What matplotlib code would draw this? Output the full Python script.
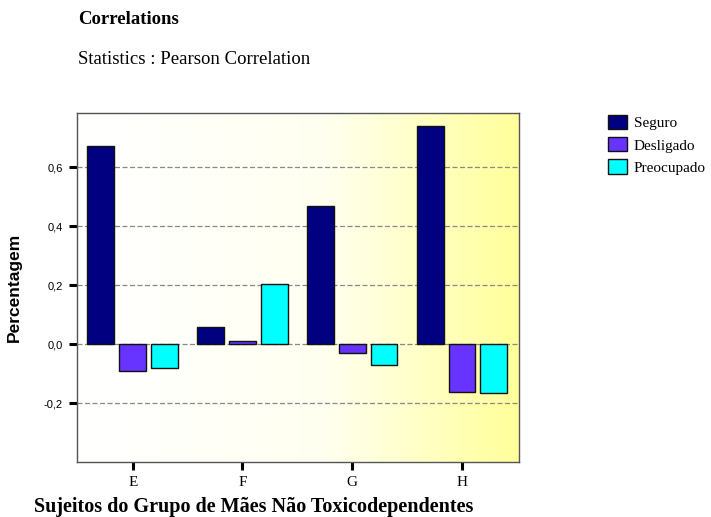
import numpy as np
import matplotlib.pyplot as plt
from matplotlib.patches import Patch
from matplotlib.colors import LinearSegmentedColormap

categories = ['E', 'F', 'G', 'H']
seguro = [0.671, 0.058, 0.468, 0.739]
desligado = [-0.092, 0.010, -0.031, -0.163]
preocupado = [-0.081, 0.203, -0.071, -0.166]
series_names = ['Seguro', 'Desligado', 'Preocupado']
series_colors = ['#000080', '#6633FF', '#00FFFF']
yticks = [-0.2, 0.0, 0.2, 0.4, 0.6]
ytick_labels = ['-0,2', '0,0', '0,2', '0,4', '0,6']

serif = 'Liberation Serif'
sans = 'Liberation Sans'

fig = plt.figure(figsize=(7.11, 5.17), dpi=100)
ax = fig.add_axes([0.108, 0.1064, 0.622, 0.6747])

xlim = (-0.51, 3.52)
ylim = (-0.40, 0.783)

# degradado blanco -> amarillo
cmap = LinearSegmentedColormap.from_list('bg', ['#ffffff', '#fffff0', '#ffff99'])
grad = np.linspace(0, 1, 256).reshape(1, -1) ** 1.2
ax.imshow(grad, cmap=cmap, aspect='auto', extent=[xlim[0], xlim[1], ylim[0], ylim[1]],
          zorder=0, vmin=0, vmax=1)

for y in yticks:
    ax.axhline(y, color='#888888', lw=0.9, ls=(0, (4, 2)), zorder=1)

x = np.arange(len(categories))
width = 0.245
step = 0.29
for i, (vals, name, col) in enumerate(zip([seguro, desligado, preocupado], series_names, series_colors)):
    ax.bar(x + (i - 1) * step, vals, width, color=col, edgecolor='#111111', linewidth=1.0,
           label=name, zorder=2)

ax.set_xlim(*xlim)
ax.set_ylim(*ylim)
ax.set_xticks(x)
ax.set_xticklabels(categories, fontfamily=serif, fontsize=11)
ax.set_yticks(yticks)
ax.set_yticklabels(ytick_labels, fontfamily=sans, fontsize=8)
ax.tick_params(axis='both', direction='out', length=6, width=2.2, color='black', pad=4)
for s in ax.spines.values():
    s.set_color('#555555')
    s.set_linewidth(1.0)

ax.set_ylabel('Percentagem', fontfamily=sans, fontsize=12.5, fontweight='bold')
ax.yaxis.set_label_coords(-0.125, 0.5)

fig.text(78 / 711, 1 - 20 / 517, 'Correlations', fontfamily=serif, fontsize=13.5,
         fontweight='bold', va='center', ha='left')
fig.text(78 / 711, 1 - 60 / 517, 'Statistics : Pearson Correlation', fontfamily=serif,
         fontsize=13.5, va='center', ha='left')
fig.text(254 / 711, 1 - 507 / 517, 'Sujeitos do Grupo de Mães Não Toxicodependentes',
         fontfamily=serif, fontsize=14.5, fontweight='bold', va='center', ha='center')

handles = [Patch(facecolor=c, edgecolor='#111111', label=n) for n, c in zip(series_names, series_colors)]
fig.legend(handles=handles, loc='upper left', bbox_to_anchor=(605 / 711, 1 - 112 / 517),
           borderaxespad=0, frameon=False, prop={'family': serif, 'size': 11},
           handlelength=1.27, handleheight=1.05, handletextpad=0.4, labelspacing=0.45,
           borderpad=0.2)

fig.savefig('out.png', dpi=100)
